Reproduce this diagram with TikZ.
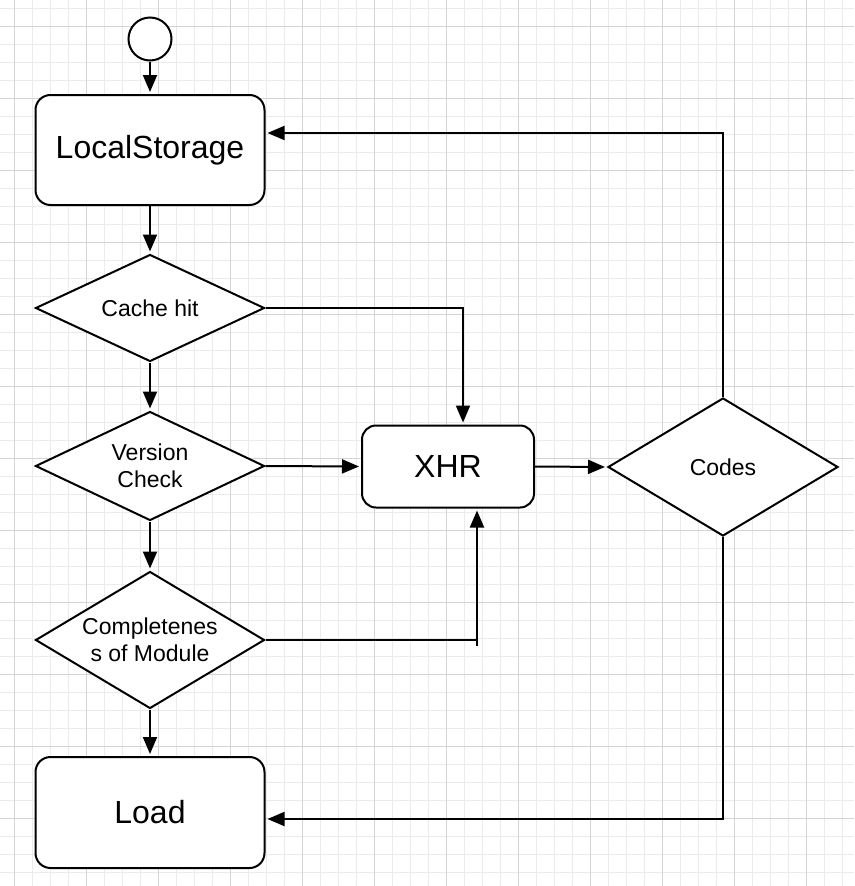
\documentclass[tikz,border=0pt]{standalone}
\usepackage{fontspec}
\setmainfont{Liberation Sans}
\usetikzlibrary{shapes.geometric,arrows.meta}
\definecolor{gminor}{HTML}{EBEBEB}
\definecolor{gmajor}{HTML}{D4D4D4}
\definecolor{ink}{HTML}{000000}

\begin{document}
\begin{tikzpicture}[x=1pt,y=-1pt,
  box/.style={draw=ink,fill=white,line width=2pt,rounded corners=15pt,
    minimum width=229pt,minimum height=110pt,font=\fontsize{32}{36}\selectfont},
  test/.style={draw=ink,fill=white,diamond,line width=2pt,inner sep=0pt,
    minimum width=229pt},
  testtext/.style={font=\fontsize{23}{27}\selectfont,align=center},
  flow/.style={ink,line width=2pt,-{Triangle[length=17pt,width=14pt]},shorten >=2pt}]
  \fill[white] (0,0) rectangle (854,886);
  \useasboundingbox (0,0) rectangle (854,886);

  % Paper grid, minor then major lines
  \foreach \gx in {0,...,46} {
    \draw[gminor,line width=1pt] ({14.3+18*\gx},0) -- ({14.3+18*\gx},886);
  }
  \foreach \gy in {0,...,48} {
    \draw[gminor,line width=1pt] (0,{8.3+18*\gy}) -- (854,{8.3+18*\gy});
  }
  \foreach \gx in {0,...,11} {
    \draw[gmajor,line width=1pt] ({14.3+72*\gx},0) -- ({14.3+72*\gx},886);
  }
  \foreach \gy in {0,...,11} {
    \draw[gmajor,line width=1pt] (0,{26.3+72*\gy}) -- (854,{26.3+72*\gy});
  }

  % Left column: start, storage and the three checks
  \node[circle,draw=ink,fill=white,line width=2pt,minimum size=43pt,inner sep=0pt] (start) at (150,39) {};
  \node[box] (local) at (150,150) {LocalStorage};
  \node[test,minimum height=107pt,label={[testtext]center:Cache hit}] (cache) at (150,308) {};
  \node[test,minimum height=109pt,label={[testtext]center:{Version\\Check}}] (version) at (150,466) {};
  \node[test,minimum height=137pt,label={[testtext]center:{Completenes\\s of Module}}] (complete) at (150,640) {};
  \node[box,minimum height=111pt] (load) at (150,812.5) {Load};

  % Request and status codes
  \node[box,minimum width=172pt,minimum height=82pt,rounded corners=14pt] (xhr) at (448,466.5) {XHR};
  \node[test,minimum width=230pt,minimum height=138pt,label={[testtext]center:Codes}] (codes) at (723,467) {};

  % Main flow downwards
  \draw[flow] (start) -- (local);
  \draw[flow] (local) -- (cache);
  \draw[flow] (cache) -- (version);
  \draw[flow] (version) -- (complete);
  \draw[flow] (complete) -- (load);

  % Failed checks go to the request
  \draw[flow] (cache.east) -| ([xshift=15pt]xhr.north);
  \draw[flow] (version.east) -- (xhr.west);
  \coordinate (bend) at ([xshift=29pt]xhr.south |- complete.east);
  \draw[ink,line width=2pt] (complete.east) -- (bend);
  \draw[flow] ([yshift=-6pt]bend) -- ([xshift=29pt]xhr.south);
  \draw[flow] (xhr.east) -- (codes.west);

  % Back from the codes
  \draw[flow] (codes.north) |- ([yshift=17pt]local.east);
  \draw[flow] (codes.south) |- ([yshift=-6.5pt]load.east);
\end{tikzpicture}
\end{document}
